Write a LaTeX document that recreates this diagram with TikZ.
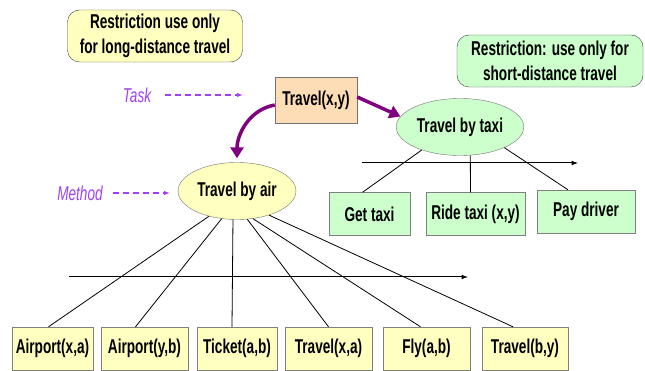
\documentclass[tikz,border=0pt]{standalone}
\usepackage{fontspec}
\setmainfont{Liberation Sans}[FakeStretch=0.68]
\usepackage{xcolor}
\definecolor{paleyel}{HTML}{FFFFC0}
\definecolor{palegrn}{HTML}{CCFFCC}
\definecolor{taskorg}{HTML}{FCDDB6}
\definecolor{arcpurp}{HTML}{800080}
\definecolor{lblpurp}{HTML}{A040F0}
\usetikzlibrary{shapes.geometric, arrows.meta}

\begin{document}
\begin{tikzpicture}[x=1pt, y=-1pt,
	every node/.style={font=\fontsize{20pt}{25pt}\selectfont\bfseries, inner sep=2pt},
	rstr/.style={rectangle, rounded corners=12pt, draw=black!75, align=center,
	             minimum height=52pt},
	tsk/.style={rectangle, draw=black!55, fill=taskorg, minimum width=82pt,
	            minimum height=46pt},
	mth/.style={ellipse, draw=black!55, minimum height=57pt},
	sub/.style={rectangle, draw=black!50, minimum height=43pt},
	lbl/.style={font=\fontsize{20pt}{25pt}\selectfont\itshape, text=lblpurp},
	ptr/.style={-{Latex[length=2mm]}, draw=lblpurp, dash pattern=on 6pt off 4pt,
	            line width=1.1pt},
	dec/.style={-{Triangle[length=11pt, width=13pt]}, draw=arcpurp, line width=3.5pt},
	ord/.style={-{Latex[length=2.2mm]}, line width=1pt},
	lnk/.style={draw=black, line width=0.8pt}
	]
\useasboundingbox (0,0) rectangle (645,371);

\node[rstr, fill=paleyel, minimum width=175pt] (rlong) at (155,36)
	{Restriction use only\\ for long-distance travel};
\node[rstr, fill=palegrn, minimum width=186pt] (rshort) at (550,61)
	{Restriction: use only for\\ short-distance travel};

\node[tsk] (tx) at (316,100) {Travel(x,y)};
\node[lbl] (tlbl) at (137,95) {Task};
\draw[ptr, shorten <=12pt, shorten >=32pt] (tlbl.east) -- (tlbl.east -| tx.west);

\node[mth, fill=paleyel, minimum width=103pt] (air) at (237,191) {Travel by air};
\node[mth, fill=palegrn, minimum width=106pt] (taxi) at (460,127) {Travel by taxi};
\node[lbl] (mlbl) at (80,193) {Method};
\draw[ptr, shorten <=8pt, shorten >=8pt] (mlbl.east) -- (mlbl.east -| air.west);

\draw[dec, shorten >=4pt] ([yshift=-5pt]tx.west) to[out=190, in=90] (air.north);
\draw[dec] ([yshift=3pt]tx.east) -- (taxi.170);

% taxi method
\node[sub, fill=palegrn, minimum width=81pt] (gt) at (369.5,214) {Get taxi};
\node[sub, fill=palegrn, minimum width=99pt] (rt) at (475.5,214) {Ride taxi (x,y)};
\node[sub, fill=palegrn, minimum width=98pt] (pd) at (586,211.5) {Pay driver};
\draw[lnk] (taxi.211) -- ([xshift=-7pt]gt.north);
\draw[lnk] (taxi.290) -- ([xshift=-5pt]rt.north);
\draw[lnk] (taxi.335) -- ([xshift=-18pt]pd.north);
\coordinate (ts) at (362,163);
\coordinate (te) at (578,163);
\draw[ord] (ts) -- (te);

% air method
\node[sub, fill=paleyel, minimum width=81pt] (ap1) at (52.5,348.5) {Airport(x,a)};
\node[sub, fill=paleyel, minimum width=87pt] (ap2) at (144.5,348.5) {Airport(y,b)};
\node[sub, fill=paleyel, minimum width=80pt] (tk) at (237,348.5) {Ticket(a,b)};
\node[sub, fill=paleyel, minimum width=87pt] (tr1) at (328.5,348.5) {Travel(x,a)};
\node[sub, fill=paleyel, minimum width=87pt] (fl) at (426.5,348.5) {Fly(a,b)};
\node[sub, fill=paleyel, minimum width=86pt] (tr2) at (525,348.5) {Travel(b,y)};
\draw[lnk] (air.222) -- ([xshift=-4pt]ap1.north);
\draw[lnk] (air.241) -- ([xshift=-9pt]ap2.north);
\draw[lnk] (air.262) -- ([xshift=-5pt]tk.north);
\draw[lnk] (air.290) -- (tr1.north);
\draw[lnk] (air.300) -- ([xshift=-6pt]fl.north);
\draw[lnk] (air.323) -- ([xshift=-12pt]tr2.north);
\coordinate (as) at (69,277);
\coordinate (ae) at (468,277);
\draw[ord] (as) -- (ae);
\end{tikzpicture}
\end{document}
